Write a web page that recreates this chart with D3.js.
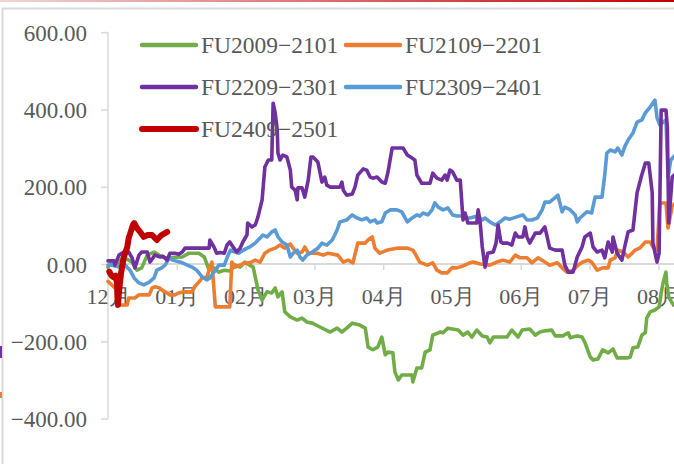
<!DOCTYPE html>
<html><head><meta charset="utf-8">
<script src="https://cdn.jsdelivr.net/npm/d3@7"></script>
<style>
html,body{margin:0;padding:0;background:#fff;overflow:hidden}
text{font-family:"Liberation Serif","Times New Roman",serif;fill:#595959}
</style></head>
<body>
<svg id="c" width="674" height="464"></svg>
<script>
// x values are positions in months counted from the 12月 tick (0 = 12月, 1 = 01月, ... 8 = 08月)
const monthLabels = ["12月","01月","02月","03月","04月","05月","06月","07月","08月"];
const yTicks = [-400,-200,0,200,400,600];
const seriesNames = ["FU2009\u22122101","FU2109\u22122201","FU2209\u22122301","FU2309\u22122401","FU2409\u22122501"];
const seriesColors = ["#70AD47","#ED7D31","#7030A0","#5B9BD5","#C00000"];

const fu2009_2101 = [[0,-8],[0.06,5],[0.13,-3],[0.22,18],[0.35,5],[0.42,-16],[0.49,-10],[0.57,23],[0.67,31],[0.74,23],[0.83,16],[1.08,18],[1.18,28],[1.32,28],[1.40,18],[1.47,-16],[1.54,-10],[1.61,-21],[1.69,-16],[1.77,-18],[1.85,-3],[1.92,-8],[1.99,5],[2.06,-3],[2.11,-8],[2.18,-67],[2.24,-93],[2.31,-72],[2.38,-75],[2.43,-62],[2.47,-85],[2.53,-72],[2.57,-124],[2.65,-137],[2.75,-145],[2.82,-140],[2.89,-150],[2.97,-153],[3.08,-163],[3.23,-176],[3.33,-166],[3.40,-176],[3.47,-166],[3.55,-153],[3.66,-158],[3.74,-166],[3.78,-215],[3.85,-222],[3.92,-215],[3.98,-189],[4.03,-235],[4.07,-228],[4.14,-230],[4.17,-279],[4.22,-300],[4.27,-287],[4.42,-287],[4.43,-305],[4.49,-269],[4.56,-269],[4.61,-228],[4.68,-222],[4.72,-184],[4.83,-176],[4.87,-178],[4.94,-166],[5.09,-171],[5.16,-184],[5.23,-176],[5.29,-189],[5.36,-171],[5.44,-186],[5.51,-189],[5.55,-204],[5.60,-189],[5.80,-189],[5.87,-171],[5.96,-189],[6.02,-171],[6.13,-168],[6.21,-184],[6.28,-176],[6.35,-173],[6.45,-171],[6.50,-186],[6.61,-186],[6.69,-178],[6.72,-191],[6.82,-186],[6.89,-189],[6.93,-202],[7.01,-241],[7.05,-248],[7.12,-246],[7.19,-222],[7.27,-230],[7.34,-220],[7.40,-243],[7.54,-243],[7.59,-241],[7.63,-217],[7.70,-215],[7.76,-184],[7.81,-178],[7.83,-140],[7.88,-124],[7.95,-119],[8.01,-111],[8.04,-75],[8.07,-47],[8.11,-21],[8.12,-49],[8.15,-85],[8.20,-101],[8.26,-106]];

const fu2109_2201 = [[0,-45],[0.06,-55],[0.13,-67],[0.16,-106],[0.20,-106],[0.28,-106],[0.30,-88],[0.39,-88],[0.45,-80],[0.60,-80],[0.64,-62],[0.68,-59],[0.75,-62],[0.78,-67],[0.86,-75],[0.90,-80],[0.97,-80],[1.03,-75],[1.10,-72],[1.22,-72],[1.26,-59],[1.32,-47],[1.37,-36],[1.44,-34],[1.48,-8],[1.51,5],[1.56,-111],[1.77,-111],[1.80,5],[1.85,-8],[1.99,3],[2.06,3],[2.14,10],[2.21,5],[2.28,28],[2.35,36],[2.43,41],[2.50,49],[2.57,41],[2.65,52],[2.69,41],[2.75,28],[2.82,31],[2.86,44],[2.91,28],[3.04,28],[3.13,23],[3.20,28],[3.34,23],[3.42,5],[3.49,10],[3.56,3],[3.63,54],[3.74,54],[3.78,62],[3.84,70],[3.88,41],[3.95,28],[4.06,36],[4.20,41],[4.35,41],[4.43,36],[4.46,28],[4.53,5],[4.64,-3],[4.72,3],[4.78,-16],[4.85,-23],[4.93,-23],[5.00,-10],[5.07,-10],[5.16,-5],[5.26,3],[5.31,5],[5.41,0],[5.55,-3],[5.65,5],[5.74,10],[5.84,5],[5.92,23],[5.99,16],[6.09,16],[6.16,3],[6.25,16],[6.35,5],[6.42,-3],[6.53,3],[6.60,-10],[6.67,-21],[6.76,-16],[6.83,-3],[6.90,5],[6.98,10],[7.03,5],[7.11,-16],[7.19,-10],[7.27,-10],[7.30,10],[7.37,16],[7.41,36],[7.49,31],[7.56,18],[7.62,28],[7.66,36],[7.73,41],[7.81,57],[7.88,57],[7.92,44],[7.98,36],[8.02,158],[8.11,158],[8.14,93],[8.20,150],[8.26,160]];

const fu2209_2301 = [[0,8],[0.09,8],[0.10,-3],[0.16,23],[0.23,31],[0.30,31],[0.35,16],[0.39,-10],[0.45,23],[0.49,31],[0.57,31],[0.61,5],[0.65,15],[0.68,23],[0.76,18],[0.80,20],[0.86,10],[0.90,28],[0.97,28],[1.03,25],[1.08,31],[1.12,41],[1.22,41],[1.47,41],[1.48,62],[1.54,44],[1.58,28],[1.63,30],[1.69,28],[1.73,49],[1.77,57],[1.83,41],[1.87,31],[1.92,41],[1.96,57],[2.02,75],[2.03,106],[2.09,96],[2.14,101],[2.18,122],[2.24,166],[2.28,251],[2.33,269],[2.38,269],[2.40,416],[2.43,391],[2.46,347],[2.47,287],[2.50,269],[2.54,282],[2.60,277],[2.65,243],[2.67,199],[2.72,191],[2.75,166],[2.76,197],[2.82,197],[2.86,173],[2.91,217],[2.95,277],[2.98,277],[3.05,264],[3.11,212],[3.15,225],[3.18,204],[3.23,199],[3.37,199],[3.40,212],[3.42,191],[3.47,178],[3.55,181],[3.59,199],[3.63,230],[3.71,246],[3.76,243],[3.81,225],[3.85,222],[3.91,225],[3.98,212],[4.03,209],[4.07,238],[4.13,300],[4.29,300],[4.35,282],[4.42,274],[4.46,269],[4.49,230],[4.56,209],[4.68,209],[4.72,235],[4.78,222],[4.85,217],[4.90,230],[4.93,217],[4.97,243],[5.01,238],[5.07,217],[5.12,217],[5.16,114],[5.19,132],[5.23,106],[5.36,106],[5.38,140],[5.41,106],[5.44,44],[5.48,-8],[5.52,28],[5.60,31],[5.64,54],[5.67,101],[5.71,57],[5.74,54],[5.81,54],[5.87,49],[5.92,80],[5.96,70],[6.03,70],[6.06,96],[6.09,70],[6.13,54],[6.21,80],[6.28,80],[6.35,96],[6.42,41],[6.50,36],[6.60,36],[6.64,-3],[6.69,-21],[6.76,-21],[6.82,18],[6.89,44],[6.93,70],[7.01,80],[7.05,44],[7.11,31],[7.18,36],[7.22,16],[7.27,57],[7.33,31],[7.34,70],[7.40,28],[7.47,10],[7.51,44],[7.56,83],[7.63,88],[7.69,184],[7.75,225],[7.81,261],[7.86,261],[7.91,184],[7.92,54],[7.98,5],[8.01,28],[8.04,398],[8.11,398],[8.13,354],[8.15,106],[8.20,225],[8.26,235]];

const fu2309_2401 = [[0,-3],[0.06,-3],[0.16,-8],[0.25,-3],[0.32,-16],[0.38,-36],[0.45,-49],[0.52,-54],[0.60,-47],[0.67,-36],[0.71,-16],[0.78,-10],[0.83,-3],[0.89,16],[0.94,10],[1.08,3],[1.22,-8],[1.29,-16],[1.37,-34],[1.44,-41],[1.48,-36],[1.56,-16],[1.61,-3],[1.69,-3],[1.73,16],[1.78,36],[1.85,31],[1.90,28],[1.97,36],[2.02,41],[2.06,44],[2.14,54],[2.21,67],[2.25,75],[2.31,70],[2.38,83],[2.43,88],[2.47,70],[2.53,57],[2.60,49],[2.65,18],[2.69,28],[2.75,36],[2.79,18],[2.83,10],[2.89,23],[2.97,31],[3.05,41],[3.11,54],[3.18,49],[3.26,62],[3.33,88],[3.37,109],[3.47,114],[3.55,127],[3.62,119],[3.69,114],[3.76,119],[3.81,109],[3.88,114],[3.91,106],[3.98,109],[4.03,132],[4.10,140],[4.20,140],[4.27,135],[4.35,109],[4.42,119],[4.49,127],[4.53,124],[4.58,132],[4.65,127],[4.71,140],[4.75,158],[4.80,147],[4.87,140],[4.94,145],[5.01,127],[5.07,124],[5.15,124],[5.19,119],[5.26,119],[5.33,122],[5.38,124],[5.44,114],[5.48,119],[5.55,109],[5.63,101],[5.70,109],[5.77,119],[5.84,116],[5.94,122],[6.03,127],[6.09,114],[6.16,114],[6.24,119],[6.31,140],[6.35,160],[6.42,160],[6.54,178],[6.60,135],[6.64,147],[6.72,140],[6.79,127],[6.82,109],[6.86,119],[6.96,135],[7.03,132],[7.08,173],[7.18,173],[7.22,230],[7.25,287],[7.30,295],[7.37,290],[7.41,300],[7.47,282],[7.51,303],[7.56,321],[7.63,339],[7.69,367],[7.76,373],[7.81,391],[7.88,406],[7.95,424],[7.98,378],[8.02,360],[8.07,367],[8.11,373],[8.14,225],[8.18,269],[8.26,285]];

const fu2409_2501 = [[0.02,-20],[0.05,-30],[0.08,-34],[0.11,-30],[0.13,-49],[0.145,-106],[0.16,-72],[0.19,-23],[0.23,18],[0.28,44],[0.30,67],[0.33,83],[0.36,100],[0.38,106],[0.42,93],[0.46,85],[0.52,70],[0.57,75],[0.64,75],[0.71,62],[0.78,75],[0.86,83]];

const seriesData = [fu2009_2101, fu2109_2201, fu2209_2301, fu2309_2401, fu2409_2501];
const seriesWidths = [3.6,3.6,3.6,3.6,6];
const drawOrder = [0,1,3,2,4];

const svg = d3.select("#c");

// frame decorations
const defs = svg.append("defs");
const g = defs.append("linearGradient").attr("id","topg").attr("x1","0").attr("x2","1");
g.append("stop").attr("offset","0").attr("stop-color","#f3d6d6");
g.append("stop").attr("offset","1").attr("stop-color","#c00000");
svg.append("rect").attr("x",0).attr("y",0).attr("width",674).attr("height",2).attr("fill","url(#topg)");
svg.append("rect").attr("x",2.5).attr("y",8.5).attr("width",700).attr("height",500)
  .attr("fill","none").attr("stroke","#d9d9d9").attr("stroke-width",2);
svg.append("rect").attr("x",0).attr("y",346).attr("width",2).attr("height",12).attr("fill","#7030A0");
svg.append("rect").attr("x",0).attr("y",392).attr("width",2).attr("height",6).attr("fill","#ED7D31");

const x = d3.scaleLinear().domain([0,8]).range([108,658.4]);
const y = d3.scaleLinear().domain([-400,600]).range([418.6,32.1]);

// y axis
const yAxis = svg.append("g").attr("transform","translate(108,0)")
  .call(d3.axisLeft(y).tickValues(yTicks).tickFormat(d3.format(".2f")).tickSize(7).tickPadding(14));
yAxis.select(".domain").attr("stroke","#d9d9d9").attr("stroke-width",1.5).attr("d","M0,"+y(-400)+"V"+y(600));
yAxis.selectAll(".tick line").attr("stroke","#d9d9d9").attr("stroke-width",1.5);
yAxis.selectAll("text").style("font-size","23px").attr("fill","#595959").attr("dy","0.35em");

// x axis at zero
const xAxis = svg.append("g").attr("transform","translate(0,"+y(0)+")")
  .call(d3.axisBottom(x).tickValues(d3.range(0,9)).tickFormat(i=>monthLabels[i]).tickSize(6).tickPadding(18));
xAxis.select(".domain").attr("stroke","#d9d9d9").attr("stroke-width",2).attr("d","M108,0H674");
xAxis.selectAll(".tick line").attr("stroke","#d9d9d9").attr("stroke-width",1.5);
xAxis.selectAll("text").style("font-size","22px").attr("fill","#595959");

// lines
const line = d3.line().x(d=>x(d[0])).y(d=>y(d[1]));
drawOrder.forEach(i=>{
  svg.append("path").datum(seriesData[i]).attr("d",line)
    .attr("fill","none").attr("stroke",seriesColors[i]).attr("stroke-width",seriesWidths[i])
    .attr("stroke-linejoin","round").attr("stroke-linecap","round");
});

// legend
const legPos = [[142,45],[346,45],[142,87],[346,87],[142,129]];
seriesNames.forEach((n,i)=>{
  const [lx,ly] = legPos[i];
  svg.append("line").attr("x1",lx).attr("x2",lx+54).attr("y1",ly).attr("y2",ly)
    .attr("stroke",seriesColors[i]).attr("stroke-width",i===4?6:4.5).attr("stroke-linecap","round");
  svg.append("text").attr("x",lx+59).attr("y",ly).attr("dy","0.35em").style("font-size","23.5px").text(n);
});
</script>
</body></html>
